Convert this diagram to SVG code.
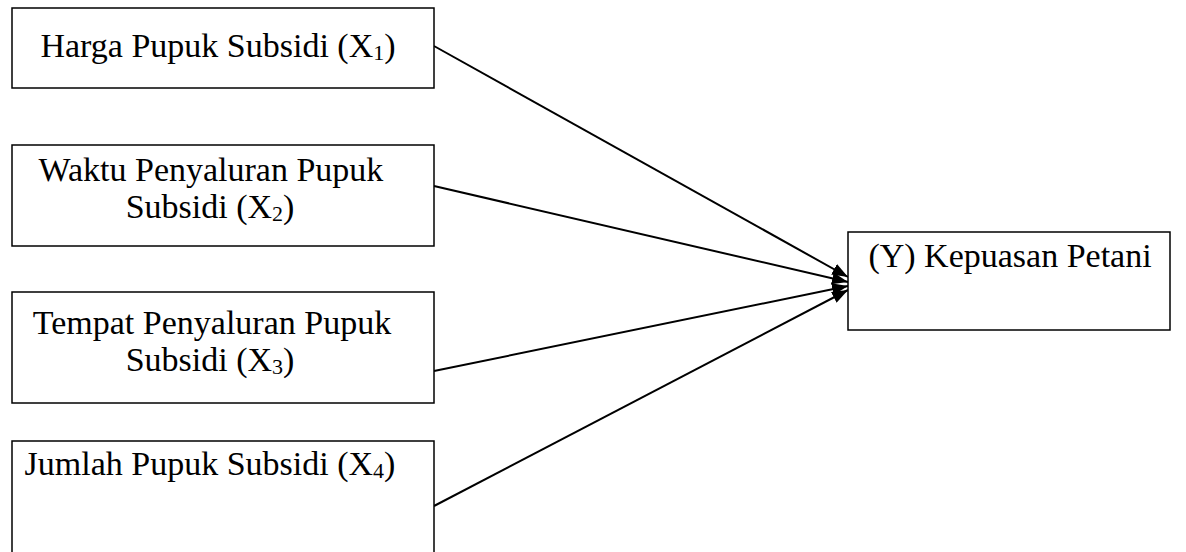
<svg xmlns="http://www.w3.org/2000/svg" width="1186" height="552" viewBox="0 0 1186 552">
<style>
.box{fill:#fff;stroke:#000;stroke-width:1.5}
.t{font-family:"Liberation Serif","Times New Roman",serif;font-size:34px;fill:#000;text-anchor:middle}
.sub{font-size:22px}
.ln{stroke:#000;stroke-width:2;fill:none;marker-end:url(#ah)}
</style>
<defs>
<marker id="ah" markerWidth="8" markerHeight="6" refX="8" refY="3" orient="auto" markerUnits="strokeWidth">
<path d="M0,0 L8,3 L0,6 Z" fill="#000"/>
</marker>
</defs>
<rect width="1186" height="552" fill="#fff"/>
<g id="connectors">
<line class="ln" x1="434" y1="46" x2="848" y2="277"/>
<line class="ln" x1="434" y1="186" x2="848" y2="282"/>
<line class="ln" x1="434" y1="371" x2="848" y2="286"/>
<line class="ln" x1="434" y1="506" x2="848" y2="290"/>
</g>
<g id="x1">
<rect class="box" x="12" y="8" width="422" height="80"/>
<text class="t" x="218" y="57">Harga Pupuk Subsidi (X<tspan class="sub" dy="3">1</tspan><tspan dy="-3">)</tspan></text>
</g>
<g id="x2">
<rect class="box" x="12" y="145" width="422" height="101"/>
<text class="t" x="211" y="181">Waktu Penyaluran Pupuk</text>
<text class="t" x="210" y="218">Subsidi (X<tspan class="sub" dy="3">2</tspan><tspan dy="-3">)</tspan></text>
</g>
<g id="x3">
<rect class="box" x="12" y="292" width="422" height="111"/>
<text class="t" x="212" y="334">Tempat Penyaluran Pupuk</text>
<text class="t" x="210" y="371">Subsidi (X<tspan class="sub" dy="3">3</tspan><tspan dy="-3">)</tspan></text>
</g>
<g id="x4">
<rect class="box" x="12" y="441" width="422" height="130"/>
<text class="t" x="210" y="475">Jumlah Pupuk Subsidi (X<tspan class="sub" dy="3">4</tspan><tspan dy="-3">)</tspan></text>
</g>
<g id="y">
<rect class="box" x="848" y="232" width="322" height="98"/>
<text class="t" x="1010" y="267">(Y) Kepuasan Petani</text>
</g>
</svg>
